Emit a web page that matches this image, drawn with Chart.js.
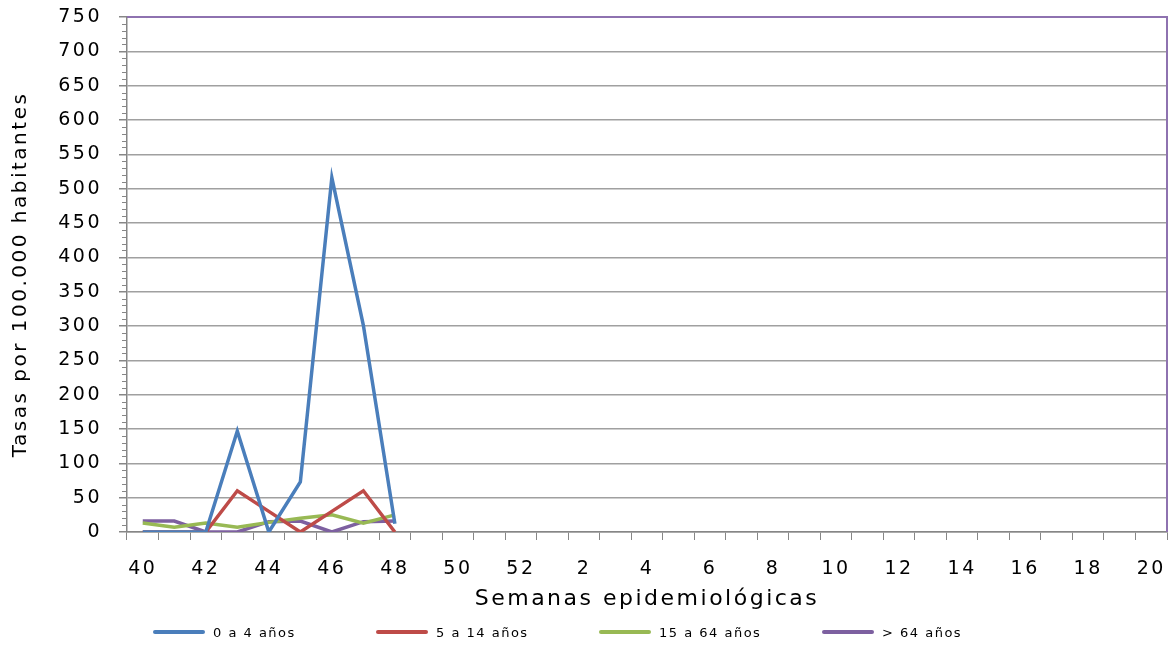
<!DOCTYPE html>
<html>
<head>
<meta charset="utf-8">
<script src="https://cdn.jsdelivr.net/npm/chart.js@4.4.1/dist/chart.umd.min.js"></script>
<style>
  html, body { margin: 0; padding: 0; background: #fff; }
  #wrap { position: relative; width: 1170px; height: 647px; }
  #legend { position: absolute; left: 153px; top: 622px; height: 20px; display: flex;
            font-family: 'DejaVu Sans', sans-serif; font-size: 13px; letter-spacing: 1.5px; color: #000; }
  #legend .item { width: 223px; display: flex; align-items: center; }
  #legend .swatch { width: 52px; height: 4px; border-radius: 2px; margin-right: 8px; }
</style>
</head>
<body>
<div id="wrap">
  <canvas id="rateChart"></canvas>
  <div id="legend"></div>
</div>
<script>
// semanas epidemiológicas (40..52, luego 1..20)
const weeks = ['40','41','42','43','44','45','46','47','48','49','50','51','52',
    '1','2','3','4','5','6','7','8','9','10','11','12','13','14','15','16','17','18','19','20'];

const age0to4 = [0, 0, 0, 147, 0, 73, 516, 301, 12];
const age5to14 = [0, 0, 0, 60, 30, 0, 30, 60, 0];
const age15to64 = [13, 7, 13, 7, 14, 20, 25, 13, 25];
const age65plus = [16, 16, 0, 0, 15, 16, 0, 15, 16];

const yTicks = [0, 50, 100, 150, 200, 250, 300, 350, 400, 450, 500, 550, 600, 650, 700, 750];

const FONT = 'DejaVu Sans';

// texto algo más ancho, como en el original
const spacingPlugin = {
    id: 'spacing',
    beforeDraw(chart) {
        chart.ctx.letterSpacing = '2.5px';
    },
    afterDraw(chart) {
        chart.ctx.letterSpacing = '0px';
    }
};

// ticks menores del eje Y y borde superior/derecho
const framePlugin = {
    id: 'frame',
    afterDatasetsDraw(chart) {
        const { ctx, chartArea, scales } = chart;
        const y = scales.y;
        ctx.save();
        ctx.strokeStyle = '#868686';
        ctx.lineWidth = 1;
        for (let v = 0; v <= 750; v += 10) {
            if (v % 50 === 0) continue;
            const py = Math.round(y.getPixelForValue(v)) + 0.5;
            ctx.beginPath();
            ctx.moveTo(chartArea.left - 5, py);
            ctx.lineTo(chartArea.left, py);
            ctx.stroke();
        }
        ctx.strokeStyle = '#8e72b0';
        ctx.lineWidth = 2;
        ctx.beginPath();
        ctx.moveTo(chartArea.left, chartArea.top);
        ctx.lineTo(chartArea.right, chartArea.top);
        ctx.lineTo(chartArea.right, chartArea.bottom);
        ctx.stroke();
        ctx.restore();
    }
};

function makeSeries(label, data, color) {
    return {
        label: label,
        data: data,
        borderColor: color,
        backgroundColor: color,
        borderWidth: 3.5,
        pointRadius: 0,
        pointHoverRadius: 0,
        tension: 0,
        fill: false
    };
}

const ctx = document.getElementById('rateChart').getContext('2d');
const chart = new Chart(ctx, {
    type: 'line',
    data: {
        labels: weeks,
        datasets: [
            makeSeries('0 a 4 años', age0to4, '#4a7ebb'),
            makeSeries('5 a 14 años', age5to14, '#be4b48'),
            makeSeries('15 a 64 años', age15to64, '#98b954'),
            makeSeries('> 64 años', age65plus, '#7d60a0')
        ]
    },
    options: {
        responsive: true,
        maintainAspectRatio: false,
        animation: false,
        layout: { padding: { top: 17, right: 3, left: 0, bottom: 35 } },
        scales: {
            x: {
                offset: true,
                grid: {
                    offset: true,
                    drawOnChartArea: false,
                    drawTicks: true,
                    tickLength: 8,
                    color: '#868686'
                },
                border: { color: '#868686', width: 1.5 },
                ticks: {
                    autoSkip: false,
                    maxRotation: 0,
                    padding: 18,
                    color: '#000',
                    font: { family: FONT, size: 19 },
                    callback: (val, i) => (i % 2 === 0 ? weeks[i] : '')
                },
                title: {
                    display: true,
                    text: 'Semanas epidemiológicas',
                    color: '#000',
                    font: { family: FONT, size: 22 },
                    padding: { top: 0, bottom: 0 }
                },
                afterFit: (scale) => {
                    scale.height = 80;
                    scale.paddingLeft = 0;
                    scale.paddingRight = 0;
                }
            },
            y: {
                min: 0,
                max: 750,
                afterBuildTicks: (scale) => { scale.ticks = yTicks.map(v => ({ value: v })); },
                grid: {
                    color: '#a0a0a0',
                    lineWidth: 1.5,
                    tickLength: 8,
                    tickColor: '#868686'
                },
                border: { color: '#868686', width: 1.5 },
                ticks: {
                    padding: 17,
                    color: '#000',
                    font: { family: FONT, size: 19 }
                },
                title: {
                    display: true,
                    text: 'Tasas por 100.000 habitantes',
                    color: '#000',
                    font: { family: FONT, size: 20 },
                    padding: { top: 9, bottom: 0 }
                },
                afterFit: (scale) => {
                    scale.width = 127;
                    scale.paddingTop = 0;
                    scale.paddingBottom = 0;
                }
            }
        },
        plugins: {
            legend: { display: false },
            tooltip: { enabled: false }
        }
    },
    plugins: [spacingPlugin, framePlugin]
});

// leyenda HTML a partir de las series
const legendBox = document.getElementById('legend');
chart.data.datasets.forEach(ds => {
    const item = document.createElement('div');
    item.className = 'item';
    const sw = document.createElement('span');
    sw.className = 'swatch';
    sw.style.background = ds.borderColor;
    const txt = document.createElement('span');
    txt.textContent = ds.label;
    item.appendChild(sw);
    item.appendChild(txt);
    legendBox.appendChild(item);
});
</script>
</body>
</html>
